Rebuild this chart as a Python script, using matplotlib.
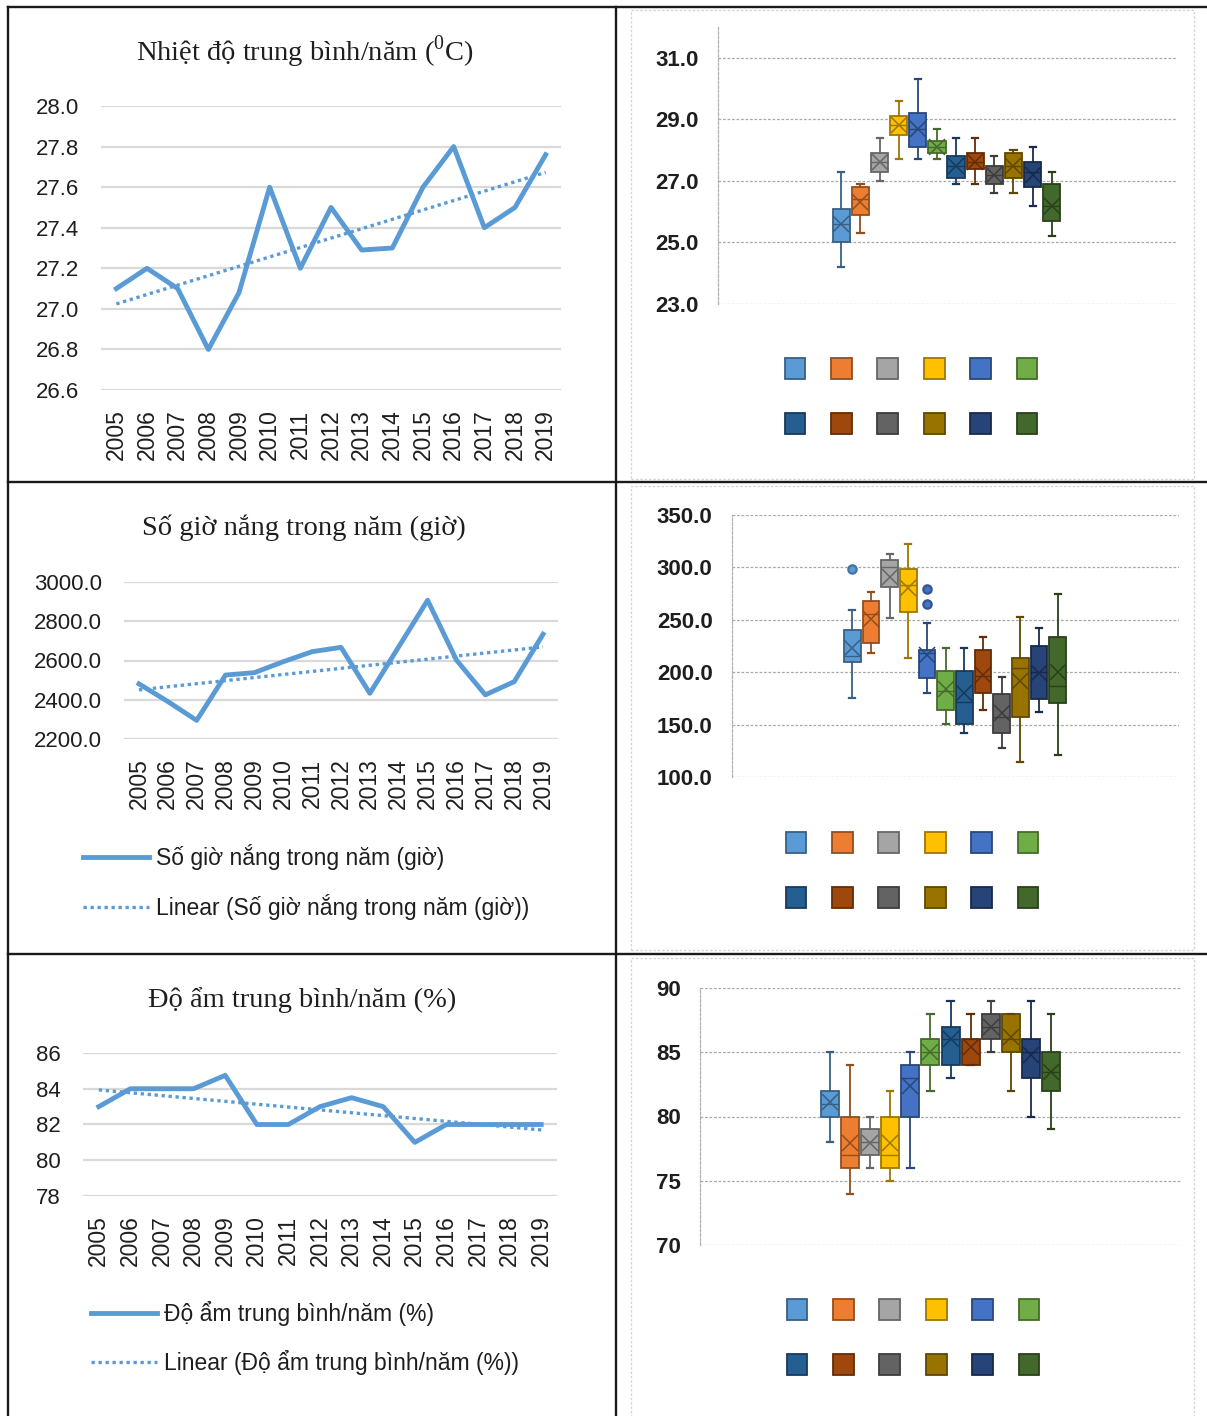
import numpy as np
import matplotlib
matplotlib.use("Agg")
import matplotlib.pyplot as plt
from matplotlib import font_manager
from matplotlib.lines import Line2D
from matplotlib.patches import Patch, Rectangle

# annual series, 2005-2019
YEARS = ["2005", "2006", "2007", "2008", "2009", "2010", "2011", "2012",
         "2013", "2014", "2015", "2016", "2017", "2018", "2019"]
TEMP_YEAR = [27.1, 27.2, 27.1, 26.8, 27.08, 27.6, 27.2, 27.5, 27.29, 27.3,
             27.6, 27.8, 27.4, 27.5, 27.76]
SUN_YEAR = [2481, 2391, 2295, 2526, 2538, 2594, 2645, 2667, 2433, 2670,
            2907, 2602, 2425, 2492, 2734]
HUM_YEAR = [83.0, 84.0, 84.0, 84.0, 84.75, 82.0, 82.0, 83.0, 83.5, 83.0,
            81.0, 82.0, 82.0, 82.0, 82.0]

# monthly box statistics (Jan..Dec)
T_LO = [24.2, 25.3, 27.0, 27.7, 27.7, 27.7, 26.9, 26.9, 26.6, 26.6, 26.2, 25.2]
T_Q1 = [25.0, 25.9, 27.3, 28.5, 28.1, 27.9, 27.1, 27.4, 26.9, 27.1, 26.8, 25.7]
T_MED = [25.6, 26.4, 27.6, 28.8, 28.7, 28.1, 27.5, 27.6, 27.2, 27.5, 27.3, 26.2]
T_Q3 = [26.1, 26.8, 27.9, 29.1, 29.2, 28.3, 27.8, 27.9, 27.5, 27.9, 27.6, 26.9]
T_HI = [27.3, 26.9, 28.4, 29.6, 30.3, 28.7, 28.4, 28.4, 27.8, 28.0, 28.1, 27.3]
T_MEAN = [25.6, 26.3, 27.6, 28.8, 28.7, 28.1, 27.5, 27.6, 27.2, 27.5, 27.2, 26.2]

S_LO = [175, 218, 252, 214, 180, 151, 142, 164, 128, 114, 162, 121]
S_Q1 = [210, 228, 281, 257, 194, 164, 151, 180, 142, 157, 174, 171]
S_MED = [215, 256, 300, 283, 218, 182, 172, 196, 157, 204, 200, 187]
S_Q3 = [240, 268, 307, 298, 221, 201, 201, 221, 179, 214, 225, 234]
S_HI = [259, 277, 313, 322, 247, 223, 223, 234, 195, 253, 242, 275]
S_MEAN = [223, 251, 291, 280, 216, 184, 180, 197, 161, 192, 199, 200]
S_OUT = [[298], [], [], [], [279, 265], [], [], [], [], [], [], []]

H_LO = [78, 74, 76, 75, 76, 82, 83, 84, 85, 82, 80, 79]
H_Q1 = [80, 76, 77, 76, 80, 84, 84, 84, 86, 85, 83, 82]
H_MED = [81, 77, 78, 77, 83, 85, 86, 86, 87, 86, 85, 83.5]
H_Q3 = [82, 80, 79, 80, 84, 86, 87, 86, 88, 88, 86, 85]
H_HI = [85, 84, 80, 82, 85, 88, 89, 88, 89, 88, 89, 88]
H_MEAN = [81.1, 77.9, 77.9, 77.9, 82.4, 85.0, 86.0, 85.4, 87.0, 86.2, 84.8, 83.5]

MONTH_COLORS = ["#5B9BD5", "#ED7D31", "#A5A5A5", "#FFC000", "#4472C4", "#70AD47",
                "#255E91", "#9E480E", "#636363", "#997300", "#264478", "#43682B"]
BLUE = "#5B9BD5"
INK = "#1e1e1e"

W, H = 1207, 1416
names = {f.name for f in font_manager.fontManager.ttflist}
NARROW = "Liberation Sans Narrow" if "Liberation Sans Narrow" in names else "Liberation Sans"
SANS = "Liberation Sans"
SERIF = "Liberation Serif"
plt.rcParams["mathtext.fontset"] = "custom"
plt.rcParams["mathtext.rm"] = SERIF

fig = plt.figure(figsize=(W / 100, H / 100), dpi=100)


def rect(x0, y0, x1, y1):
    """pixel box (top-left origin) -> figure fraction rect"""
    return [x0 / W, 1 - y1 / H, (x1 - x0) / W, (y1 - y0) / H]


def darker(c, f=0.6):
    r, g, b = matplotlib.colors.to_rgb(c)
    return (r * f, g * f, b * f)


def line_panel(r, vals, ylim, step, fmt, title, title_xy, label=None, leg_xy=None):
    ax = fig.add_axes(r)
    x = np.arange(len(YEARS))
    trend = np.polyval(np.polyfit(x, vals, 1), x)
    ax.plot(x, vals, color=BLUE, lw=3.5, label=label, zorder=3)
    ax.plot(x, trend, color=BLUE, lw=2.4, ls=(0, (1, 1.1)),
            label=f"Linear ({label})", zorder=2)
    ax.set_xlim(-0.5, len(YEARS) - 0.5)
    ax.set_ylim(*ylim)
    ticks = np.arange(ylim[0], ylim[1] + step / 2, step)
    ax.set_yticks(ticks)
    ax.set_yticklabels([fmt.format(t) for t in ticks], family=NARROW,
                       fontsize=16, color=INK)
    ax.set_xticks(x)
    ax.set_xticklabels(YEARS, rotation=90, family=SANS, fontsize=16.5, color=INK)
    ax.tick_params(length=0, axis="y", pad=16)
    ax.tick_params(length=0, axis="x", pad=14)
    ax.grid(axis="y", color="#d9d9d9", lw=1.6)
    ax.set_axisbelow(True)
    for sp in ax.spines.values():
        sp.set_visible(False)
    fig.text(title_xy[0] / W, 1 - title_xy[1] / H, title, ha="center", va="center",
             family=SERIF, fontsize=20.5, color=INK)
    if label:
        ax.legend(loc="center left", bbox_to_anchor=(leg_xy[0] / W, 1 - leg_xy[1] / H),
                  bbox_transform=fig.transFigure, frameon=False,
                  prop={"family": NARROW, "size": 16.5}, handlelength=2.9,
                  handletextpad=0.3, labelspacing=1.05, borderpad=0,
                  borderaxespad=0, labelcolor=INK)
    return ax


def box_panel(r, lo, q1, med, q3, hi, mean, ylim, step, fmt, leg_xy, outliers=None):
    ax = fig.add_axes(r)
    stats = []
    for i in range(len(MONTH_COLORS)):
        stats.append({"whislo": lo[i], "q1": q1[i], "med": med[i], "q3": q3[i],
                      "whishi": hi[i], "mean": mean[i],
                      "fliers": outliers[i] if outliers else []})
    pos = np.arange(1, len(MONTH_COLORS) + 1)
    parts = ax.bxp(stats, positions=pos, widths=0.9, patch_artist=True,
                   showmeans=True, showfliers=True, manage_ticks=False)
    for i, c in enumerate(MONTH_COLORS):
        edge = darker(c, 0.62)
        parts["boxes"][i].set(facecolor=c, edgecolor=edge, lw=1.3)
        parts["medians"][i].set(color=edge, lw=1.0)
        for k in (2 * i, 2 * i + 1):
            parts["whiskers"][k].set(color=edge, lw=1.3)
            parts["caps"][k].set(color=edge, lw=1.6, xdata=np.array([-0.16, 0.16]) + pos[i])
        parts["means"][i].set(marker="x", markersize=11, markeredgecolor=edge,
                              markeredgewidth=1.1)
        parts["fliers"][i].set(marker="o", markersize=6, markerfacecolor=c,
                               markeredgecolor=darker(c, 0.75), markeredgewidth=1.6)
    ax.set_xlim(-5.45, 18.5)
    ax.set_ylim(*ylim)
    ticks = np.arange(ylim[0], ylim[1] + 0.01, step)
    ax.set_yticks(ticks)
    ax.set_yticklabels([fmt.format(t) for t in ticks], family=NARROW,
                       fontsize=16, fontweight="bold", color=INK)
    ax.set_xticks([])
    ax.tick_params(length=0, pad=14)
    ax.grid(axis="y", color="#a9a9a9", lw=0.9, ls=(0, (2.2, 1.4)))
    ax.set_axisbelow(True)
    for sp in ("top", "right", "bottom"):
        ax.spines[sp].set_visible(False)
    ax.spines["left"].set(color="#b0b0b0", lw=0.9, ls=(0, (2.2, 1.4)))
    # legend: first row Jan..Jun, second row Jul..Dec
    order = [j for i in range(6) for j in (i, i + 6)]
    handles = [Patch(facecolor=MONTH_COLORS[j], edgecolor=darker(MONTH_COLORS[j], 0.62),
                     lw=1.3) for j in order]
    ax.legend(handles=handles, labels=[""] * 12, ncol=6, loc="center",
              bbox_to_anchor=(leg_xy[0] / W, 1 - leg_xy[1] / H),
              bbox_transform=fig.transFigure, frameon=False, fontsize=10,
              handlelength=1.5, handleheight=2.0, handletextpad=0,
              columnspacing=1.84, labelspacing=2.45, borderpad=0)
    return ax


# left column: annual series with linear trend
line_panel(rect(101, 106, 561, 390), TEMP_YEAR, (26.6, 28.0), 0.2, "{:.1f}",
           "Nhiệt độ trung bình/năm ($^{0}$C)", (305, 52))
line_panel(rect(124.5, 582, 557.5, 739), SUN_YEAR, (2200, 3000), 200, "{:.1f}",
           "Số giờ nắng trong năm (giờ)", (304, 528),
           label="Số giờ nắng trong năm (giờ)", leg_xy=(83, 882))
line_panel(rect(83, 1053, 557, 1196), HUM_YEAR, (78, 86), 2, "{:.0f}",
           "Độ ẩm trung bình/năm (%)", (302, 1000),
           label="Độ ẩm trung bình/năm (%)", leg_xy=(91, 1338))

# right column: monthly box-and-whisker
box_panel(rect(718, 27, 1176, 304), T_LO, T_Q1, T_MED, T_Q3, T_HI, T_MEAN,
          (23, 32), 2, "{:.1f}", (911, 396))
box_panel(rect(732, 515, 1179, 777), S_LO, S_Q1, S_MED, S_Q3, S_HI, S_MEAN,
          (100, 350), 50, "{:.1f}", (912, 870), outliers=S_OUT)
box_panel(rect(700, 988, 1182, 1245), H_LO, H_Q1, H_MED, H_Q3, H_HI, H_MEAN,
          (70, 90), 5, "{:.0f}", (913, 1337))

# chart-area outlines of the right-hand cells
for y0, y1 in ((10, 479), (486, 950), (958, 1420)):
    fig.add_artist(Rectangle((631 / W, 1 - y1 / H), (1194 - 631) / W, (y1 - y0) / H,
                             transform=fig.transFigure, fill=False,
                             ec="#d4d4d4", lw=0.9, ls=(0, (2, 1.5))))

# table rules
rules = [((8, 1207), (7, 7)), ((8, 1207), (482, 482)), ((8, 1207), (954, 954)),
         ((8, 8), (7, 1416)), ((616, 616), (7, 1416))]
for xs, ys in rules:
    fig.add_artist(Line2D([xs[0] / W, xs[1] / W], [1 - ys[0] / H, 1 - ys[1] / H],
                          transform=fig.transFigure, color="#1a1a1a", lw=1.7))

fig.savefig("out.png", dpi=100, facecolor="white")
